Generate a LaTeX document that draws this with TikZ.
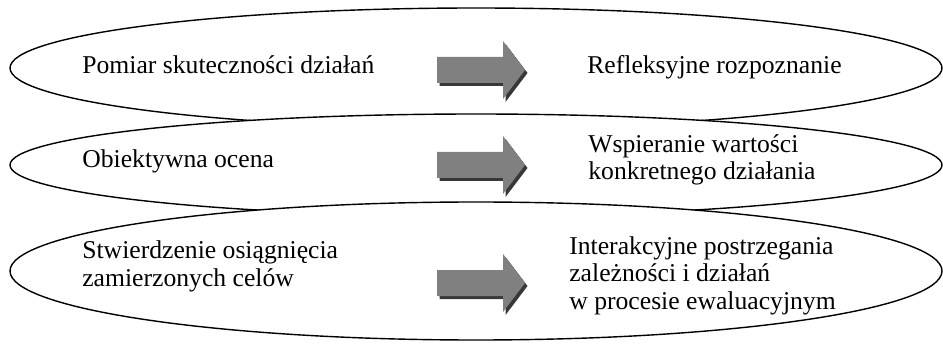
\documentclass[tikz,border=0pt]{standalone}
\usepackage{fontspec}
\setmainfont{Liberation Serif}
\usepackage{tikz}

\begin{document}
\begin{tikzpicture}[x=0.02cm,y=-0.02cm,
  oval/.style={draw,fill=white,line width=0.8pt},
  txt/.style={anchor=base west,inner sep=0pt,align=left,font=\fontsize{14.6}{15.5}\selectfont}]
\useasboundingbox (0,0) rectangle (943,344);
% the three ovals, each one covering the one above
\draw[oval] (476,68) ellipse [x radius=466, y radius=60];
\draw[oval] (476,165) ellipse [x radius=466, y radius=51];
\draw[oval] (476,271) ellipse [x radius=466, y radius=69];
% block arrows with a dark shadow
\foreach \y in {70,165,283} {
  \fill[black!78, shift={(2.5,3)}] (437,\y-13) -- (503,\y-13) -- (503,\y-29) -- (525,\y) -- (503,\y+29) -- (503,\y+13) -- (437,\y+13) -- cycle;
  \fill[black!50] (437,\y-13) -- (503,\y-13) -- (503,\y-29) -- (525,\y) -- (503,\y+29) -- (503,\y+13) -- (437,\y+13) -- cycle;
}
% texts (base = last line)
\node[txt] (pomiar) at (82,74) {Pomiar skuteczności działań};
\node[txt] (refleks) at (587,74) {Refleksyjne rozpoznanie};
\node[txt] (obiekt) at (82,168) {Obiektywna ocena};
\node[txt] (wspier) at (588,180) {Wspieranie wartości\\konkretnego działania};
\node[txt] (stwier) at (82,286) {Stwierdzenie osiągnięcia\\zamierzonych celów};
\node[txt] (interak) at (569,309) {Interakcyjne postrzegania\\zależności i działań\\w procesie ewaluacyjnym};
\end{tikzpicture}
\end{document}
